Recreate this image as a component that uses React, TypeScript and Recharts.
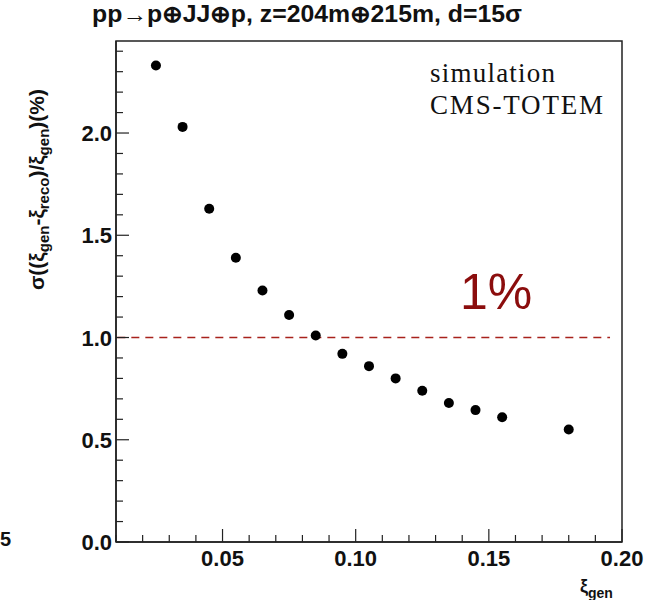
import React from "react";
import {
  ScatterChart,
  Scatter,
  XAxis,
  YAxis,
  ReferenceLine,
  ReferenceArea,
} from "recharts";

// xi_gen bin centres and resolution (%)
const xiGen = [
  0.025, 0.035, 0.045, 0.055, 0.065, 0.075, 0.085, 0.095, 0.105, 0.115,
  0.125, 0.135, 0.145, 0.155, 0.18,
];
const sigmaPct = [
  2.33, 2.03, 1.63, 1.39, 1.23, 1.11, 1.01, 0.92, 0.86, 0.8, 0.74, 0.68,
  0.645, 0.61, 0.55,
];

// axis ticks (minor + major), only the majors get labels
const xTicks = [
  0.01, 0.02, 0.03, 0.04, 0.05, 0.06, 0.07, 0.08, 0.09, 0.1, 0.11, 0.12,
  0.13, 0.14, 0.15, 0.16, 0.17, 0.18, 0.19, 0.2,
];
const xTickLabels = ["0.05", "0.10", "0.15", "0.20"];
const yTicks = [
  0, 0.1, 0.2, 0.3, 0.4, 0.5, 0.6, 0.7, 0.8, 0.9, 1.0, 1.1, 1.2, 1.3, 1.4,
  1.5, 1.6, 1.7, 1.8, 1.9, 2.0, 2.1, 2.2, 2.3, 2.4,
];
const yTickLabels = ["0.0", "0.5", "1.0", "1.5", "2.0"];

const threshold = 1.0;

const points = xiGen.map((x, i) => ({ x, y: sigmaPct[i] }));

const FONT = "'Liberation Sans', Arial, Helvetica, sans-serif";
const SERIF = "'Liberation Serif', 'Times New Roman', serif";
const AXIS = "#222";

const XTick = (props: any) => {
  const { x, y, payload } = props;
  const label = Number(payload.value).toFixed(2);
  const major = xTickLabels.includes(label);
  return (
    <g>
      <line x1={x} x2={x} y1={y} y2={y - (major ? 13 : 7)} stroke={AXIS} strokeWidth={1.2} />
      {major && (
        <text
          x={x}
          y={y + 24}
          textAnchor="middle"
          fontFamily={FONT}
          fontWeight="bold"
          fontSize={22}
          fill="#111"
        >
          {label}
        </text>
      )}
    </g>
  );
};

const YTick = (props: any) => {
  const { x, y, payload } = props;
  const label = Number(payload.value).toFixed(1);
  const major = yTickLabels.includes(label);
  return (
    <g>
      <line x1={x} x2={x + (major ? 13 : 7)} y1={y} y2={y} stroke={AXIS} strokeWidth={1.2} />
      {major && (
        <text
          x={x - 4}
          y={y + 8}
          textAnchor="end"
          fontFamily={FONT}
          fontWeight="bold"
          fontSize={22}
          fill="#111"
        >
          {label}
        </text>
      )}
    </g>
  );
};

export default function App() {
  return (
    <div style={{ position: "absolute", left: 0, top: 0, width: 650, height: 600, background: "#fff" }}>
      <ScatterChart
        width={650}
        height={600}
        margin={{ top: 41, right: 28, left: 0, bottom: 0 }}
      >
        <XAxis
          type="number"
          dataKey="x"
          domain={[0.01, 0.2]}
          ticks={xTicks}
          interval={0}
          height={58}
          tickSize={0}
          tickMargin={0}
          tick={<XTick />}
          axisLine={{ stroke: AXIS, strokeWidth: 1.5 }}
          allowDataOverflow
        />
        <YAxis
          type="number"
          dataKey="y"
          domain={[0, 2.45]}
          ticks={yTicks}
          interval={0}
          width={116}
          tickSize={0}
          tickMargin={0}
          tick={<YTick />}
          axisLine={{ stroke: AXIS, strokeWidth: 1.5 }}
          allowDataOverflow
        />
        <ReferenceArea
          x1={0.01}
          x2={0.2}
          y1={0}
          y2={2.45}
          fill="none"
          stroke={AXIS}
          strokeWidth={1.5}
          ifOverflow="visible"
        />
        <ReferenceLine
          segment={[
            { x: 0.0105, y: threshold },
            { x: 0.1955, y: threshold },
          ]}
          stroke="#a8221c"
          strokeWidth={1.6}
          strokeDasharray="8 6"
        />
        <Scatter
          data={points}
          isAnimationActive={false}
          shape={(p: any) => <circle cx={p.cx} cy={p.cy} r={5} fill="#000" />}
        />
      </ScatterChart>

      <svg
        width={650}
        height={600}
        style={{ position: "absolute", left: 0, top: 0, pointerEvents: "none" }}
      >
        <text
          x={92}
          y={22}
          fontFamily={FONT}
          fontWeight="bold"
          fontSize={23}
          fill="#111"
          textLength={430}
          lengthAdjust="spacingAndGlyphs"
        >
          pp→p⊕JJ⊕p, z=204m⊕215m, d=15σ
        </text>

        <text
          transform="translate(44,290) rotate(-90)"
          fontFamily={FONT}
          fontWeight="bold"
          fontSize={21}
          fill="#111"
        >
          σ((ξ
          <tspan fontSize={15} dy={5}>gen</tspan>
          <tspan dy={-5}>-ξ</tspan>
          <tspan fontSize={15} dy={5}>reco</tspan>
          <tspan dy={-5}>)/ξ</tspan>
          <tspan fontSize={15} dy={5}>gen</tspan>
          <tspan dy={-5}>)(%)</tspan>
        </text>

        <text x={580} y={592} fontFamily={FONT} fontWeight="bold" fontSize={18} fill="#111">
          ξ<tspan fontSize={14} dy={6}>gen</tspan>
        </text>

        <text x={0} y={546} fontFamily={FONT} fontWeight="bold" fontSize={20} fill="#111">
          5
        </text>

        <text x={430} y={82} fontFamily={SERIF} fontSize={27} fill="#111" textLength={125}>
          simulation
        </text>
        <text x={430} y={114} fontFamily={SERIF} fontSize={27} fill="#111" textLength={173}>
          CMS-TOTEM
        </text>

        <text x={460} y={309} fontFamily={FONT} fontSize={50} fill="#8b0d0d">
          1%
        </text>
      </svg>
    </div>
  );
}
